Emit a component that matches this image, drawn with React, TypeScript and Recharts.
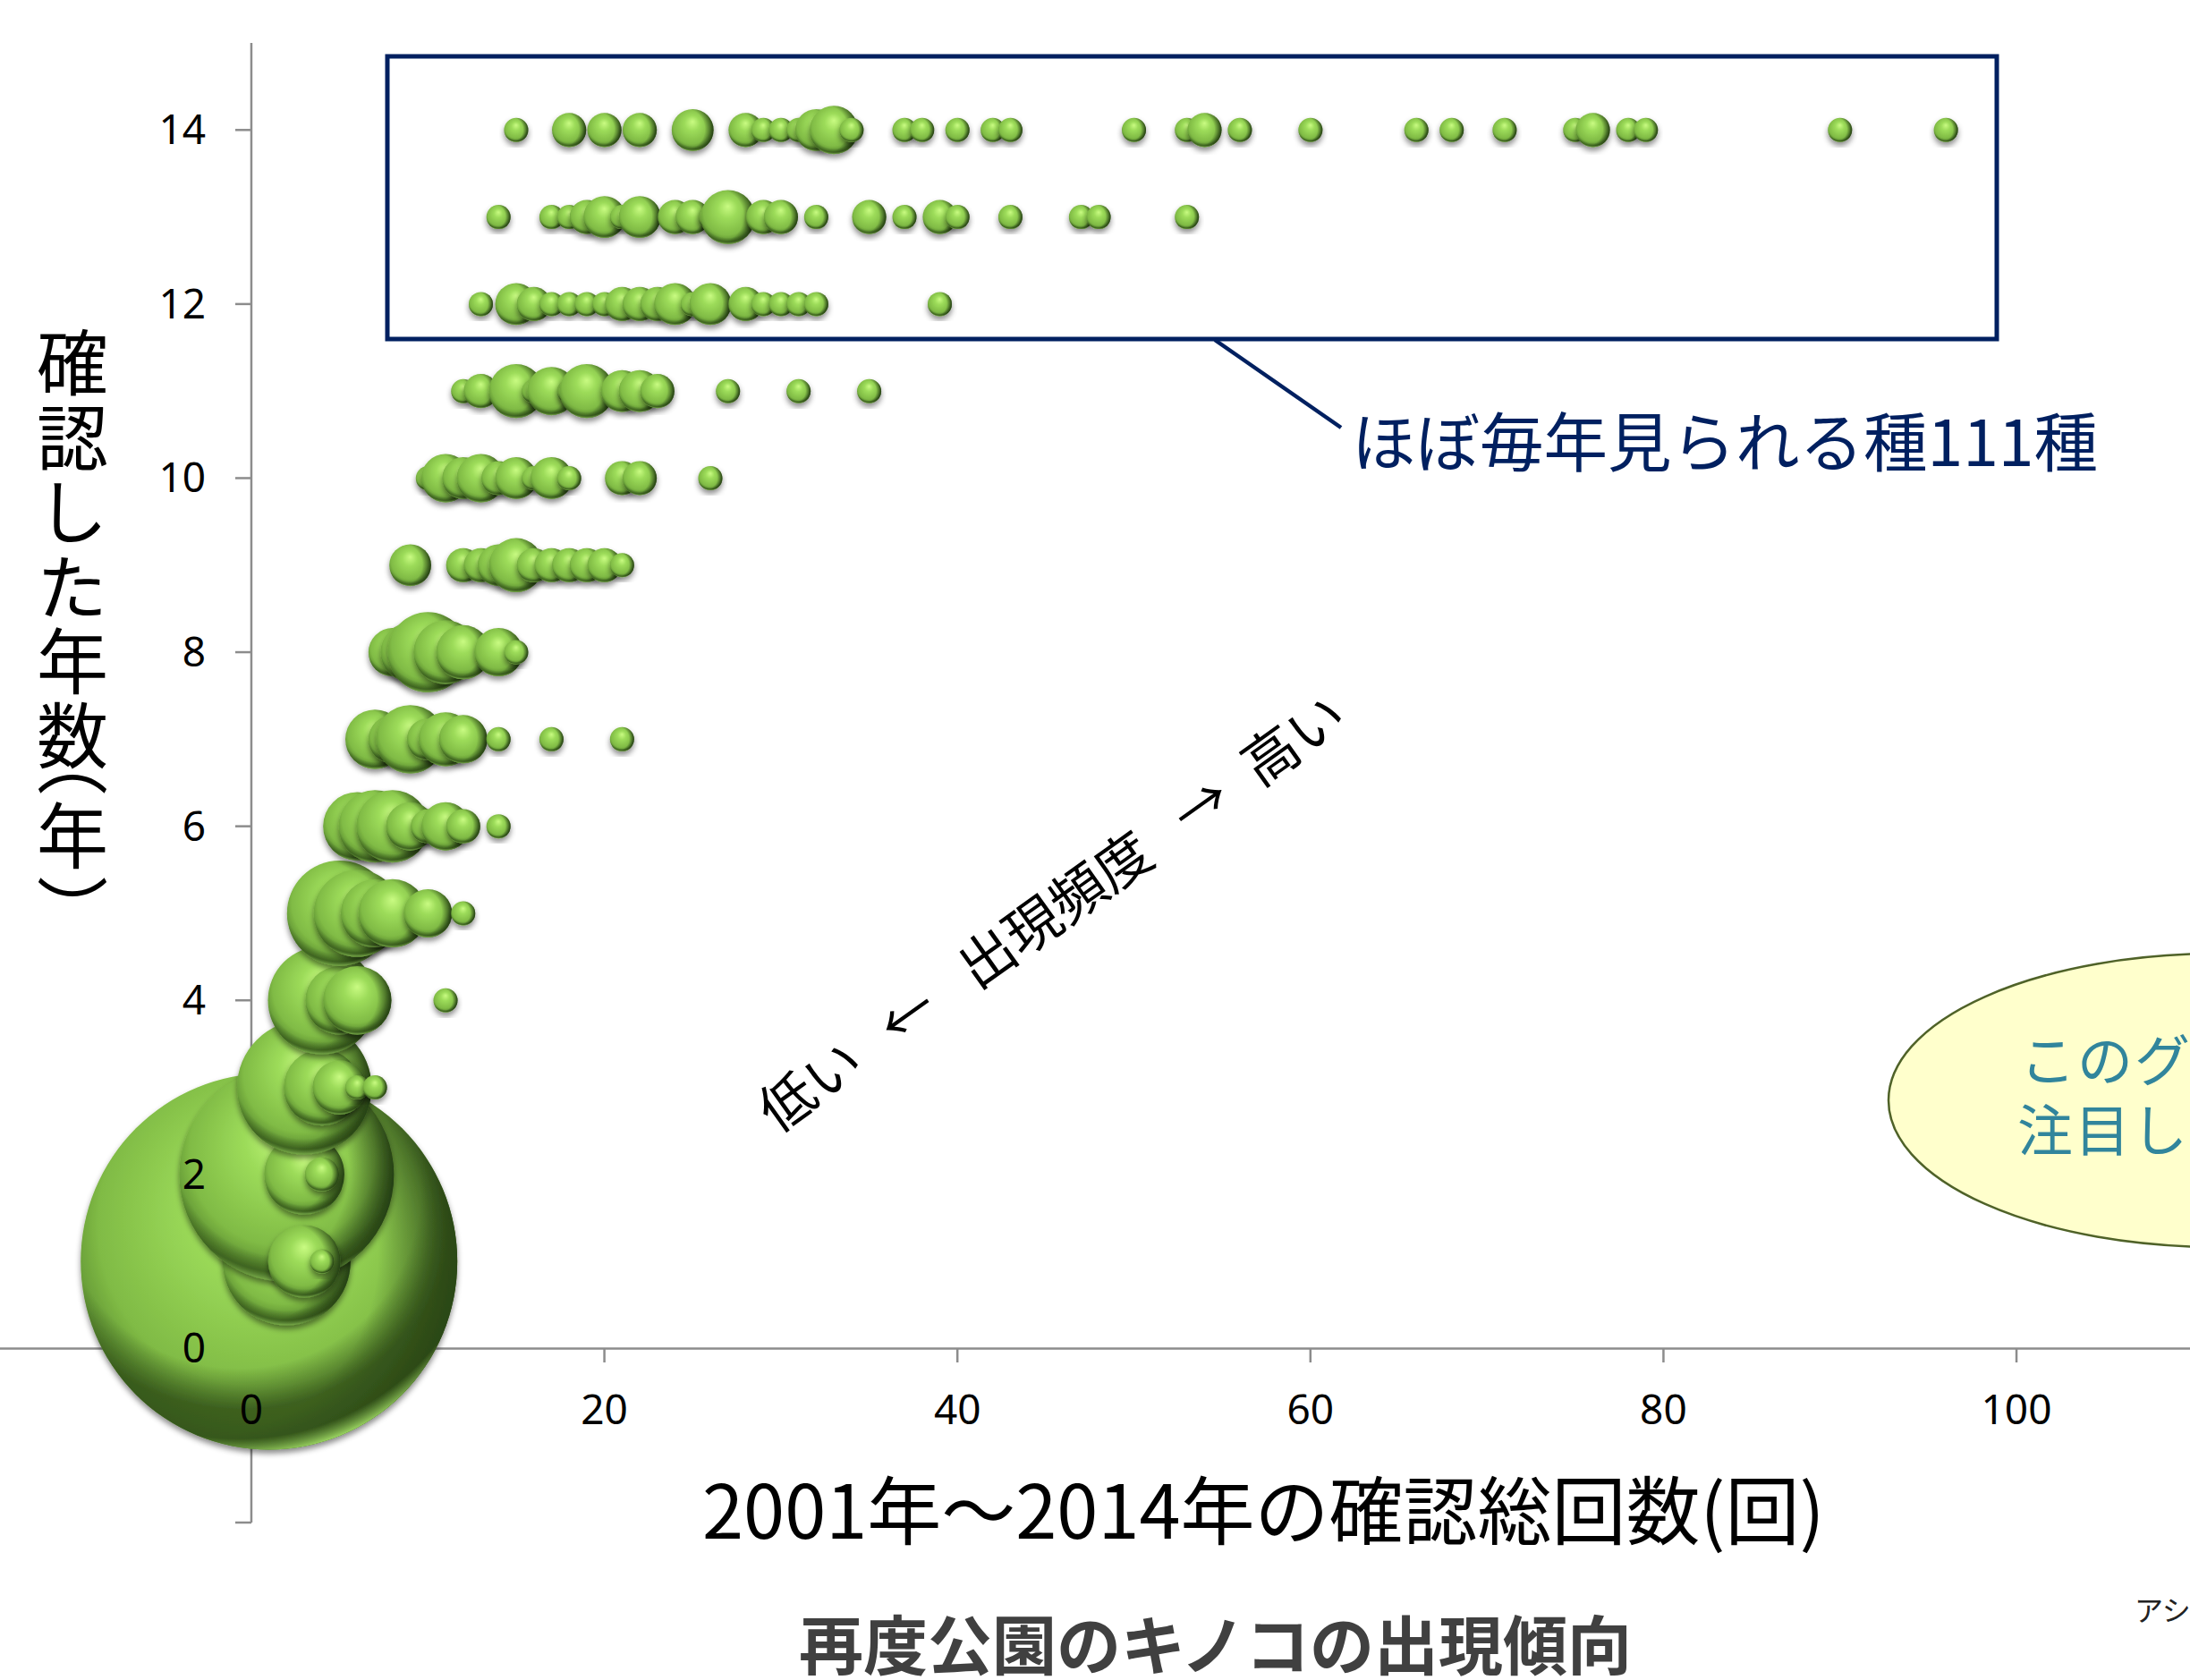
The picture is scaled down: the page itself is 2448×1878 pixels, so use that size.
import React from 'react';
import { ScatterChart, Scatter, XAxis, YAxis, ZAxis, ReferenceLine } from 'recharts';

// [total sightings, number of species] for each "years observed" row
const years1 = [[1, 243], [2, 28], [3, 9], [4, 1]];
const years2 = [[2, 79], [3, 11], [4, 2]];
const years3 = [[3, 31], [4, 10], [5, 5], [6, 1], [7, 1]];
const years4 = [[4, 20], [5, 8], [6, 8], [11, 1]];
const years5 = [[5, 19], [6, 13], [7, 8], [8, 8], [10, 4], [12, 1]];
const years6 = [[6, 8], [7, 9], [8, 9], [9, 4], [10, 2], [11, 4], [12, 2], [14, 1]];
const years7 = [[7, 6], [8, 4], [9, 8], [10, 3], [11, 5], [12, 4], [14, 1], [17, 1], [21, 1]];
const years8 = [[8, 4], [9, 6], [10, 11], [11, 7], [12, 5], [14, 4], [15, 1]];
const years9 = [[9, 3], [12, 2], [13, 2], [14, 3], [15, 5], [16, 2], [17, 2], [18, 2], [19, 2], [20, 2], [21, 1]];
const years10 = [[10, 1], [11, 4], [12, 3], [13, 4], [14, 2], [15, 3], [16, 1], [17, 3], [18, 1], [21, 2], [22, 2], [26, 1]];
const years11 = [[12, 1], [13, 2], [15, 5], [16, 1], [17, 4], [18, 1], [19, 5], [21, 3], [22, 3], [23, 2], [27, 1], [31, 1], [35, 1]];
const years12 = [[13, 1], [15, 3], [16, 2], [17, 1], [18, 1], [19, 1], [20, 1], [21, 2], [22, 2], [23, 2], [24, 3], [25, 1], [26, 3], [28, 2], [29, 1], [30, 1], [31, 1], [32, 1], [39, 1]];
const years13 = [[14, 1], [17, 1], [18, 1], [19, 2], [20, 3], [21, 1], [22, 3], [24, 2], [25, 2], [26, 1], [27, 5], [29, 2], [30, 2], [32, 1], [35, 2], [37, 1], [39, 2], [40, 1], [43, 1], [47, 1], [48, 1], [53, 1]];
const years14 = [[15, 1], [18, 2], [20, 2], [22, 2], [25, 3], [28, 2], [29, 1], [30, 1], [31, 1], [32, 3], [33, 4], [34, 1], [37, 1], [38, 1], [40, 1], [42, 1], [43, 1], [50, 1], [53, 1], [54, 2], [56, 1], [60, 1], [66, 1], [68, 1], [71, 1], [75, 1], [76, 2], [78, 1], [79, 1], [90, 1], [96, 1]];

const yearRows = [years1, years2, years3, years4, years5, years6, years7, years8, years9, years10, years11, years12, years13, years14];

// painted in order of total sightings, then years, so later bubbles sit on top
const bubbles = yearRows
  .flatMap((row, i) => row.map(([total, species]) => ({ total, years: i + 1, species })))
  .sort((a, b) => a.total - b.total || a.years - b.years);

const xTicks = [0, 20, 40, 60, 80, 100];
const yTicks = [-2, 0, 2, 4, 6, 8, 10, 12, 14];

const WIDTH = 2448;
const HEIGHT = 1878;
const AXIS_X = 281;
const AXIS_Y = 1508;
const AXIS_COLOR = '#8c8c8c';
const NAVY = '#002060';
const LABEL_FONT = '"Noto Sans", sans-serif';
const JP_FONT = '"Noto Sans CJK JP", sans-serif';

// one unit of species is a 27px bubble, area grows linearly
const MAX_SPECIES = 243;
const MAX_AREA = (Math.PI / 4) * 27 * 27 * MAX_SPECIES;

const Sphere = ({ cx, cy, size, payload }: any) => {
  const r = Math.sqrt(size / Math.PI);
  const rim = payload.species >= 100 ? 'url(#sphereRimWide)' : 'url(#sphereRim)';
  return (
    <g filter="url(#sphereShadow)">
      <circle cx={cx} cy={cy} r={r} fill="url(#sphereBody)" />
      <circle cx={cx} cy={cy} r={r} fill="url(#sphereSide)" />
      <circle cx={cx} cy={cy} r={r} fill={rim} />
    </g>
  );
};

// the 0 mark stays out: it would otherwise print over the largest bubble
const XTick = ({ x, payload }: any) => (
  <g>
    {payload.value !== 0 && (
      <line x1={x} x2={x} y1={AXIS_Y} y2={AXIS_Y + 15} stroke={AXIS_COLOR} strokeWidth={2.5} />
    )}
    <text x={x} y={AXIS_Y + 84} textAnchor="middle" fontFamily={LABEL_FONT} fontSize={46} fill="#000">
      {payload.value}
    </text>
  </g>
);

// same for the 0 and 2 marks, which lie under the two big bubbles
const YTickMark = ({ y, payload }: any) =>
  payload.value === 0 || payload.value === 2 ? <g /> : (
    <line x1={AXIS_X - 18} x2={AXIS_X} y1={y} y2={y} stroke={AXIS_COLOR} strokeWidth={2.5} />
  );

const YTickText = ({ y, payload }: any) =>
  payload.value < 0 ? <g /> : (
    <text x={230} y={y + 16} textAnchor="end" fontFamily={LABEL_FONT} fontSize={46} fill="#000">
      {payload.value}
    </text>
  );

export default function App() {
  return (
    <div style={{ position: 'absolute', left: 0, top: 0, width: WIDTH, height: HEIGHT, overflow: 'hidden', background: '#fff' }}>
      <ScatterChart width={WIDTH} height={HEIGHT} margin={{ top: 48, right: 0, bottom: 175, left: -2 }}>
        <defs>
          <radialGradient id="sphereBody" cx="0.47" cy="0.44" r="0.6" fx="0.5" fy="0.3">
            <stop offset="0" stopColor="#c9fb82" />
            <stop offset="0.3" stopColor="#9ddc5a" />
            <stop offset="0.72" stopColor="#80bb45" />
            <stop offset="0.93" stopColor="#4f7f2a" />
            <stop offset="1" stopColor="#3a5f1e" />
          </radialGradient>
          <radialGradient id="sphereSide" cx="0.3" cy="0.48" r="0.72">
            <stop offset="0.68" stopColor="#12240a" stopOpacity="0" />
            <stop offset="1" stopColor="#12240a" stopOpacity="0.8" />
          </radialGradient>
          <radialGradient id="sphereRim" cx="0.5" cy="0.35" r="0.7">
            <stop offset="0.76" stopColor="#2d4a16" stopOpacity="0" />
            <stop offset="0.87" stopColor="#2d4a16" stopOpacity="0.6" />
            <stop offset="0.95" stopColor="#a8e56a" stopOpacity="0.95" />
            <stop offset="1" stopColor="#a8e56a" stopOpacity="0.95" />
          </radialGradient>
          <radialGradient id="sphereRimWide" cx="0.42" cy="0.3" r="0.78">
            <stop offset="0.62" stopColor="#2d4a16" stopOpacity="0" />
            <stop offset="0.76" stopColor="#2d4a16" stopOpacity="0.75" />
            <stop offset="0.86" stopColor="#2d4a16" stopOpacity="0.75" />
            <stop offset="0.92" stopColor="#a8e56a" stopOpacity="0.95" />
            <stop offset="1" stopColor="#a8e56a" stopOpacity="0.95" />
          </radialGradient>
          <filter id="sphereShadow" x="-20%" y="-20%" width="140%" height="140%">
            <feDropShadow dx="0" dy="4" stdDeviation="3" floodColor="#000" floodOpacity="0.45" />
          </filter>
        </defs>
        <YAxis
          yAxisId="marks"
          type="number"
          dataKey="years"
          domain={[-2, 15]}
          ticks={yTicks}
          interval={0}
          width={1}
          axisLine={false}
          tickLine={false}
          tick={<YTickMark />}
          allowDataOverflow
          zIndex={100}
        />
        <ZAxis type="number" dataKey="species" domain={[0, MAX_SPECIES]} range={[0, MAX_AREA]} />
        <ReferenceLine yAxisId="marks" y={0} stroke={AXIS_COLOR} strokeWidth={2.5} zIndex={100} />
        <ReferenceLine yAxisId="marks" x={0} stroke={AXIS_COLOR} strokeWidth={2.5} zIndex={100} />
        <Scatter yAxisId="marks" data={bubbles} shape={<Sphere />} isAnimationActive={false} zIndex={200} />
        <XAxis
          type="number"
          dataKey="total"
          domain={[-14.24, 109.83]}
          ticks={xTicks}
          interval={0}
          height={1}
          axisLine={false}
          tickLine={false}
          tick={<XTick />}
          allowDataOverflow
          zIndex={300}
        />
        <YAxis
          yAxisId="text"
          type="number"
          domain={[-2, 15]}
          ticks={yTicks}
          interval={0}
          width={1}
          axisLine={false}
          tickLine={false}
          tick={<YTickText />}
          allowDataOverflow
          zIndex={300}
        />
      </ScatterChart>

      {/* annotations laid over the plot */}
      <svg width={WIDTH} height={HEIGHT} style={{ position: 'absolute', left: 0, top: 0, pointerEvents: 'none' }}>
        <rect x={433} y={63} width={1799} height={316} fill="none" stroke={NAVY} strokeWidth={5} />
        <line x1={1358} y1={380} x2={1499} y2={478} stroke={NAVY} strokeWidth={4.5} />
        <text x={1511} y={521} fontFamily={JP_FONT} fontSize={71.5} fill={NAVY}>ほぼ毎年見られる種111種</text>

        <ellipse cx={2480} cy={1230} rx={369} ry={164} fill="#ffffcc" stroke="#4f6228" strokeWidth={2.5} />
        <text x={2258} y={1209} fontFamily={JP_FONT} fontSize={62} letterSpacing={2} fill="#31859c">このグ</text>
        <text x={2255} y={1287} fontFamily={JP_FONT} fontSize={62} letterSpacing={2} fill="#31859c">注目し</text>

        <g fontFamily={JP_FONT} fontSize={62} fill="#000" textAnchor="middle" dominantBaseline="central">
          <text transform="translate(903 1210) rotate(-35.5)">低い</text>
          <text transform="translate(1012 1132) rotate(-35.5)">←</text>
          <text transform="translate(1177 1013) rotate(-35.5)">出現頻度</text>
          <text transform="translate(1340 897) rotate(-35.5)">→</text>
          <text transform="translate(1443 823) rotate(-35.5)">高い</text>
        </g>

        <text
          x={81}
          y={365}
          fontFamily={JP_FONT}
          fontSize={80}
          letterSpacing={3.4}
          fill="#000"
          style={{ writingMode: 'vertical-rl', textOrientation: 'mixed' }}
        >
          確認した年数<tspan dy={-55}>（</tspan>年）
        </text>

        <text x={785} y={1720} fontFamily={JP_FONT} fontSize={83} fill="#000">2001年～2014年の確認総回数(回)</text>
        <text x={893} y={1866} fontFamily={JP_FONT} fontSize={72} fontWeight={700} fill="#404040">再度公園のキノコの出現傾向</text>
        <text x={2386} y={1812} fontFamily={JP_FONT} fontSize={32} fill="#222">アシ</text>
      </svg>
    </div>
  );
}
